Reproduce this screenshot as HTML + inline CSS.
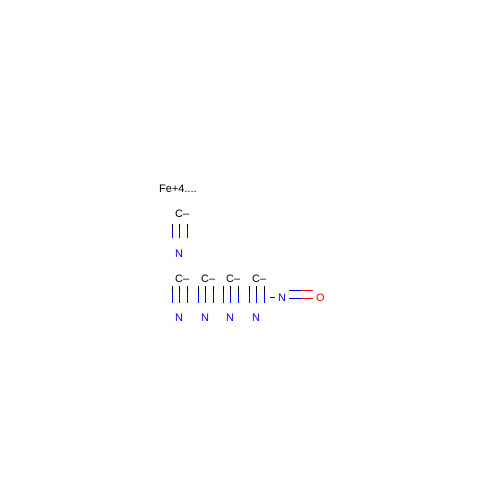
<!DOCTYPE html>
<html><head><meta charset="utf-8"><style>
html,body{margin:0;padding:0;background:#fff;}
svg{display:block;}
text{font-family:"Liberation Sans",sans-serif;font-size:11px;}
</style></head><body>
<svg width="500" height="500">
<text x="159" y="192" fill="#000">Fe+4....</text>
<g id="g"></g>
</svg>
<script>
const cols=[179,205,230,256];
const g=document.getElementById('g');
const NS='http://www.w3.org/2000/svg';
function L(x1,y1,x2,y2,c,n){const l=document.createElementNS(NS,'line');l.setAttribute('x1',x1);l.setAttribute('y1',y1);l.setAttribute('x2',x2);l.setAttribute('y2',y2);l.setAttribute('stroke',c);l.setAttribute('stroke-width','1');


g.appendChild(l);}
function T(x,y,s,c,n){const t=document.createElementNS(NS,'text');t.setAttribute('x',x);t.setAttribute('y',y);t.setAttribute('fill',c);t.textContent=s;


g.appendChild(t);}
function cn(x,cy,l1,l2,ny){
 T(x-4,cy,'C\u2013','#000','carbon-label');
 [-7.5,0,7.5].forEach(d=>{const xx=Math.round(x+d)+0.5;L(xx,l1,xx,l1+6,'#000','triple-bond-top');L(xx,l1+6,xx,l2,'#00f','triple-bond-bottom');});
 T(x-4,ny,'N','#00f','nitrogen-label');
}
cn(179,217,224,238,257);
cols.forEach(x=>cn(x,282,286,303,321));
L(270,297.5,275,297.5,'#00f','nitrosyl-bond');
T(278,301,'N','#00f','nitrosyl-nitrogen');
L(289,290.5,301,290.5,'#00f','double-bond-n');L(301,290.5,313,290.5,'#f00','double-bond-o');
L(289,298.5,301,298.5,'#00f','double-bond-n');L(301,298.5,313,298.5,'#f00','double-bond-o');
T(316,301,'O','#f00','oxygen-label');
</script>
</body></html>
